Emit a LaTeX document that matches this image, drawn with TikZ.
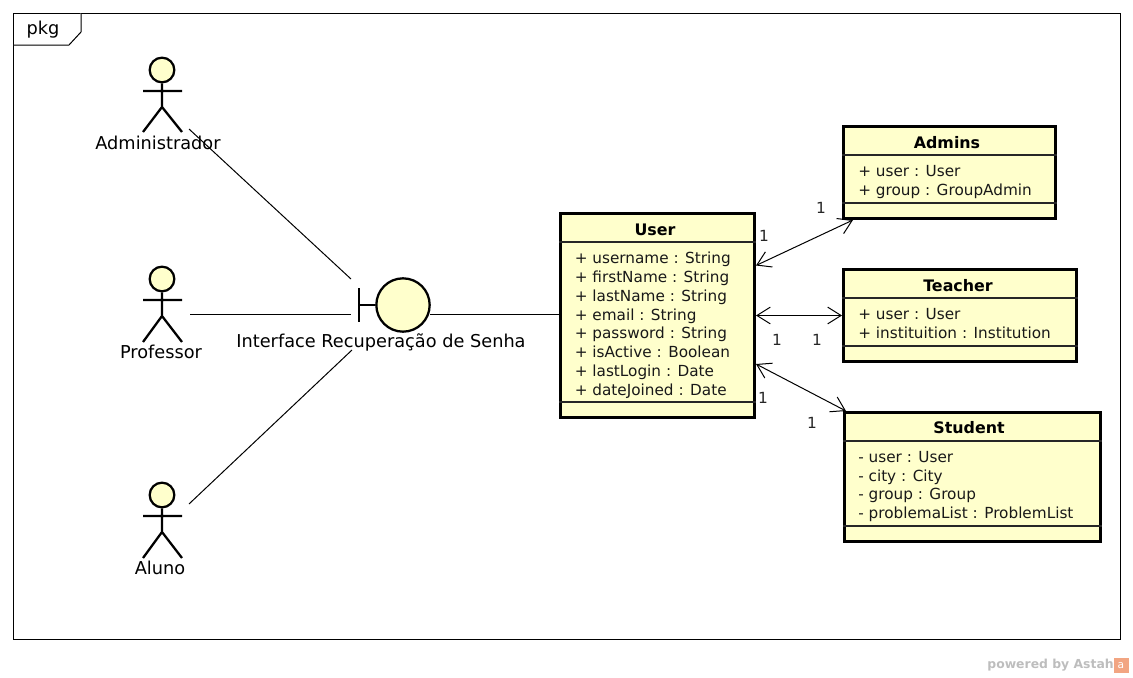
\documentclass[tikz,border=0pt]{standalone}
\usepackage{fontspec}
\setmainfont{DejaVu Sans}
\usetikzlibrary{arrows.meta,calc}
\definecolor{umlfill}{HTML}{FFFFCC}
\definecolor{markgrey}{HTML}{BDBDBD}
\definecolor{markorange}{HTML}{F2A582}
\tikzset{
  classbox/.style={draw=black,line width=2.25pt,fill=umlfill,rectangle,inner sep=0pt},
  divider/.style={line width=0.9pt,draw=black!85},
  titletext/.style={font=\fontsize{11.9}{14}\selectfont\bfseries,inner sep=0pt,anchor=center},
  attrs/.style={font=\fontsize{11.45}{14.05}\selectfont,align=left,inner sep=0pt,anchor=north west,text=black!90},
  actorpart/.style={line width=1.7pt,draw=black},
  actorhead/.style={circle,draw=black,line width=1.7pt,fill=umlfill,inner sep=0pt,minimum size=18.5pt},
  actorname/.style={font=\fontsize{13.3}{15}\selectfont,inner sep=0pt,anchor=center},
  assoc/.style={line width=0.75pt,draw=black},
  nav/.style={assoc,{Straight Barb[length=10pt,width=12.5pt]}-{Straight Barb[length=10pt,width=12.5pt]}},
  mult/.style={font=\fontsize{11.5}{13}\selectfont,inner sep=0pt,anchor=center,text=black!85},
}
\begin{document}
\begin{tikzpicture}[x=0.75pt,y=-0.75pt]
\useasboundingbox (0,0) rectangle (1133,678);
% frame
\draw[line width=0.75pt] (13.5,13.5) rectangle (1120.5,639.5);
\draw[line width=0.75pt,fill=white] (13.5,45) -- (69,45) -- (81,32) -- (81,13.5);
\node[font=\fontsize{13.3}{15}\selectfont,inner sep=0pt] (pkg) at (43,30) {pkg};

% boundary
\node[circle,draw=black,line width=1.7pt,fill=umlfill,inner sep=0pt,minimum size=40pt] (iface) at (403,305) {};
\coordinate (ifaceW) at (359,305);
\coordinate (ifaceA) at (351,279);
\coordinate (ifaceB) at (351,314);
\coordinate (ifaceC) at (352,350);
\draw[actorpart] (359,288) -- (359,322);
\draw[actorpart] (ifaceW) -- (iface.west);
\node[actorname] (ifacename) at (381,342.5) {Interface Recuperação de Senha};

% actors
\node[actorhead] (adminhead) at (162,70) {};
\draw[actorpart] (adminhead.south) -- (162,107) (143,91) -- (182,91) (143,132) -- (162,107) -- (182,132);
\node[actorname] (admin) at (158,142.5) {Administrador};
\node[actorhead] (profhead) at (162,279) {};
\draw[actorpart] (profhead.south) -- (162,316) (143,300) -- (182,300) (143,342) -- (162,316) -- (182,342);
\node[actorname] (prof) at (161,351.5) {Professor};
\node[actorhead] (alunohead) at (162,495) {};
\draw[actorpart] (alunohead.south) -- (162,532) (143,516) -- (182,516) (143,558) -- (162,532) -- (182,558);
\node[actorname] (aluno) at (160,567.5) {Aluno};

% actor connectors
\coordinate (adminEnd) at (189,129);
\coordinate (profEnd) at (190,314);
\coordinate (alunoEnd) at (189,504);
\draw[assoc] (adminEnd) -- (ifaceA);
\draw[assoc] (profEnd) -- (ifaceB);
\draw[assoc] (alunoEnd) -- (ifaceC);

% class boxes
\node[classbox,minimum width=145.5pt,minimum height=153pt] (user) at (657.5,315.5) {};
\node[classbox,minimum width=159pt,minimum height=69pt] (admins) at (949.5,172.5) {};
\node[classbox,minimum width=174.75pt,minimum height=69pt] (teacher) at (960,315.5) {};
\node[classbox,minimum width=192pt,minimum height=96.75pt] (student) at (972.5,477) {};

% iface to user
\draw[assoc] (430,314) -- (user.west |- 0,314);

% associations
\draw[nav] ($(user.north east)+(0,53.5)$) -- ($(admins.south west)+(11,0)$);
\draw[nav] (user.east |- 0,315.5) -- (teacher.west |- 0,315.5);
\draw[nav] ($(user.north east)+(0,152)$) -- ($(student.north west)+(3,0)$);

% dividers
\draw[divider] (user.west |- 0,242) -- (user.east |- 0,242) (user.west |- 0,402) -- (user.east |- 0,402);
\draw[divider] (admins.west |- 0,155) -- (admins.east |- 0,155) (admins.west |- 0,203) -- (admins.east |- 0,203);
\draw[divider] (teacher.west |- 0,298) -- (teacher.east |- 0,298) (teacher.west |- 0,346) -- (teacher.east |- 0,346);
\draw[divider] (student.west |- 0,441) -- (student.east |- 0,441) (student.west |- 0,526) -- (student.east |- 0,526);

% class text
\node[titletext] (usertitle) at (655,230) {User};
\node[attrs] (userattrs) at (574.5,252) {+ username : String\\+ firstName : String\\+ lastName : String\\+ email : String\\+ password : String\\+ isActive : Boolean\\+ lastLogin : Date\\+ dateJoined : Date};
\node[titletext] (adminstitle) at (947,143) {Admins};
\node[attrs] (adminsattrs) at (858,165) {+ user : User\\+ group : GroupAdmin};
\node[titletext] (teachertitle) at (958,286) {Teacher};
\node[attrs] (teacherattrs) at (858,308) {+ user : User\\+ instituition : Institution};
\node[titletext] (studenttitle) at (969,428) {Student};
\node[attrs] (studentattrs) at (858,451) {- user : User\\- city : City\\- group : Group\\- problemaList : ProblemList};

% multiplicities
\node[mult] (m1) at (764,236) {1};
\node[mult] (m2) at (821,208) {1};
\node[mult] (m3) at (777,340) {1};
\node[mult] (m4) at (817,340) {1};
\node[mult] (m5) at (763,398) {1};
\node[mult] (m6) at (812,423) {1};

% watermark
\node[font=\fontsize{9.3}{12}\selectfont\bfseries,text=markgrey,inner sep=0pt,anchor=east] (mark) at (1114,665.5) {powered by Astah};
\node[fill=markorange,minimum size=11.25pt,inner sep=0pt,text=white,font=\fontsize{8}{8}\selectfont] (logo) at (1121,665.5) {a};
\end{tikzpicture}
\end{document}
